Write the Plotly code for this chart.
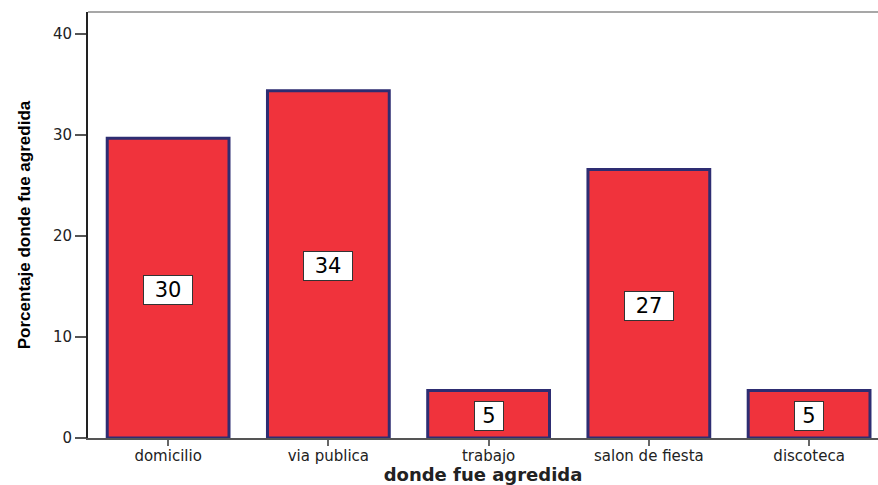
import plotly.graph_objects as go

# Percentage of cases by place of aggression (n = 64)
lugares = ["domicilio", "via publica", "trabajo", "salon de fiesta", "discoteca"]
porcentajes = [29.7, 34.4, 4.7, 26.6, 4.7]
y_ticks = [0, 10, 20, 30, 40]

BAR_FILL = "#f0333c"
BAR_EDGE = "#2e2d72"
TEXT = "#222222"

fig = go.Figure(
    go.Bar(
        x=lugares,
        y=porcentajes,
        width=0.76,
        marker=dict(color=BAR_FILL, line=dict(color=BAR_EDGE, width=3)),
        hovertemplate="%{x}: %{y:.1f}%<extra></extra>",
    )
)

# Boxed value labels centred in each bar
for lugar, valor in zip(lugares, porcentajes):
    texto = f"{valor:.0f}"
    fig.add_annotation(
        x=lugar,
        y=valor / 2,
        yshift=-2,
        text=texto,
        showarrow=False,
        font=dict(family="DejaVu Sans, Arial", size=21, color="#000000"),
        bgcolor="#ffffff",
        bordercolor="#333333",
        borderwidth=1,
        borderpad=1,
        width=46 if len(texto) > 1 else 26,
        height=26,
    )

# Light frame line along the top of the plotting area
fig.add_shape(
    type="line", xref="paper", yref="paper",
    x0=0, x1=1, y0=1, y1=1,
    line=dict(color="#8a8a8a", width=1.5),
)

fig.update_layout(
    width=878,
    height=485,
    margin=dict(l=88, r=0, t=12, b=47),
    paper_bgcolor="#ffffff",
    plot_bgcolor="#ffffff",
    showlegend=False,
    font=dict(family="DejaVu Sans, Arial", color=TEXT),
)

fig.update_xaxes(
    range=[-0.5, 4.43],
    showline=True,
    linecolor="#555555",
    linewidth=1.5,
    ticks="outside",
    ticklen=6,
    tickwidth=1.5,
    tickcolor="#666666",
    tickfont=dict(family="DejaVu Sans, Arial", size=15, color=TEXT),
    ticklabelstandoff=-3,
    showgrid=False,
    title=dict(
        text="<b>donde fue agredida</b>",
        font=dict(family="DejaVu Sans, Arial", size=18, color=TEXT),
        standoff=3,
    ),
)

fig.update_yaxes(
    range=[0, 42.2],
    tickvals=y_ticks,
    showline=True,
    linecolor="#222222",
    linewidth=2,
    ticks="outside",
    ticklen=11,
    tickwidth=1.5,
    tickcolor="#555555",
    tickfont=dict(family="DejaVu Sans, Arial", size=15, color=TEXT),
    showgrid=False,
    zeroline=False,
    title=dict(
        text="<b>Porcentaje donde fue agredida</b>",
        font=dict(family="Liberation Sans Narrow, Liberation Sans, Arial", size=17, color="#000000"),
        standoff=18,
    ),
)

fig.write_html("out.html")
